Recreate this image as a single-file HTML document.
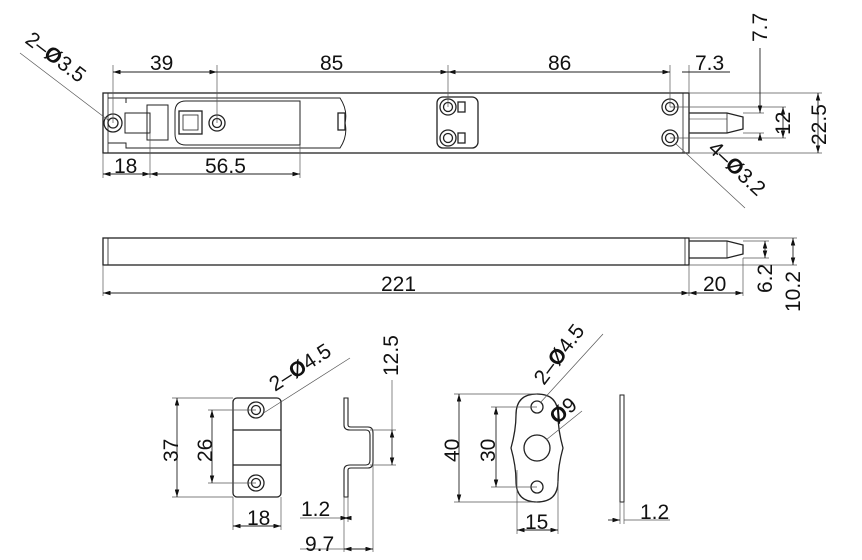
<!DOCTYPE html>
<html><head><meta charset="utf-8"><style>
html,body{margin:0;padding:0;background:#fff;}
svg{display:block;}
text{font-family:"Liberation Sans","DejaVu Sans",sans-serif;fill:#111;}
</style></head><body>
<svg width="862" height="560" viewBox="0 0 862 560" xmlns="http://www.w3.org/2000/svg">
<defs>
<marker id="a" viewBox="0 0 10 6" refX="10" refY="3" markerWidth="9" markerHeight="5" orient="auto-start-reverse"><path d="M0,0 L10,3 L0,6 z" fill="#111"/></marker>
</defs>
<g fill="none" stroke="#222" stroke-width="1.3">
<rect x="103" y="93" width="586" height="60"/>
<line x1="108" y1="93" x2="108" y2="153" stroke-width="0.8"/>
<line x1="683" y1="93" x2="683" y2="153" stroke-width="0.8"/>
<path d="M108,98 H126 V98 H340 Q348,110 345,123 Q348,136 340,148 H126 V143 H108" stroke-width="1"/>
<path d="M126,98 V103 M126,143 V148" stroke-width="1"/>
<path d="M186,101 H300 V145 H186 Q175,145 175,134 V112 Q175,101 186,101 Z" stroke-width="1"/>
<rect x="125" y="113" width="25" height="20" stroke-width="1"/>
<rect x="147" y="105" width="21" height="35" stroke-width="1"/>
<rect x="179" y="111" width="23" height="23"/>
<rect x="183" y="115" width="15" height="15" stroke-width="0.8"/>
<rect x="338" y="113" width="7" height="17"/>
<circle cx="113" cy="123" r="9"/><circle cx="113" cy="123" r="5"/>
<circle cx="217" cy="123" r="8"/><circle cx="217" cy="123" r="4.5"/>
<rect x="437" y="97" width="41" height="51" rx="6"/>
<circle cx="448" cy="107" r="8"/><circle cx="448" cy="107" r="4.5"/>
<circle cx="448" cy="138" r="8"/><circle cx="448" cy="138" r="4.5"/>
<rect x="458" y="102" width="7" height="10"/><rect x="458" y="133" width="7" height="10"/>
<circle cx="670" cy="107" r="8"/><circle cx="670" cy="107" r="4.5"/>
<circle cx="670" cy="138" r="8"/><circle cx="670" cy="138" r="4.5"/>
<path d="M689,113 H727 L743,117 V129 L727,133 H689"/>
<line x1="727" y1="113" x2="727" y2="133" stroke-width="0.8"/>
<line x1="689" y1="119" x2="727" y2="119" stroke-width="0.6"/>
<rect x="103" y="238" width="586" height="27"/>
<line x1="108" y1="238" x2="108" y2="265" stroke-width="0.8"/>
<line x1="685" y1="238" x2="685" y2="265" stroke-width="0.8"/>
<path d="M689,241 H727 L743,245 V254 L727,258 H689"/>
<line x1="727" y1="241" x2="727" y2="258" stroke-width="0.8"/>
<rect x="233" y="398" width="48" height="99" rx="4"/>
<line x1="233" y1="430" x2="281" y2="430"/><line x1="233" y1="465" x2="281" y2="465"/>
<circle cx="256" cy="410" r="8"/><circle cx="256" cy="410" r="4.5"/>
<circle cx="256" cy="483" r="8"/><circle cx="256" cy="483" r="4.5"/>
<path d="M344,398 V425 Q344,430 350,430 H366 Q370,430 370,435 V460 Q370,465 366,465 H350 Q344,465 344,470 V497 H348 V470 Q348,468 351,468 H368 Q373,468 373,462 V433 Q373,427 368,427 H351 Q348,427 348,425 V398 Z" stroke-width="1.1"/>
<path d="M537,394 Q558,394 558,415 Q558,430 563,448 Q558,466 558,481 Q558,502 537,502 Q516,502 516,481 Q516,466 511,448 Q516,430 516,415 Q516,394 537,394 Z"/>
<circle cx="537" cy="407" r="6"/><circle cx="537" cy="487" r="6"/><circle cx="537" cy="448" r="13"/>
<rect x="620" y="395" width="4" height="107" stroke-width="1"/>
</g>
<g fill="none" stroke="#555" stroke-width="0.7">
<line x1="113" y1="65" x2="113" y2="123"/><line x1="217" y1="65" x2="217" y2="123"/>
<line x1="448" y1="65" x2="448" y2="107"/><line x1="670" y1="65" x2="670" y2="107"/>
<line x1="689" y1="65" x2="689" y2="93"/>
<line x1="103" y1="153" x2="103" y2="178"/><line x1="150" y1="133" x2="150" y2="178"/><line x1="300" y1="145" x2="300" y2="178"/>
<line x1="689" y1="93" x2="822" y2="93"/><line x1="689" y1="153" x2="822" y2="153"/>
<line x1="670" y1="107" x2="786" y2="107"/><line x1="670" y1="138" x2="786" y2="138"/>
<line x1="743" y1="113" x2="764" y2="113"/><line x1="743" y1="133" x2="764" y2="133"/>
<line x1="20" y1="53" x2="108" y2="120"/>
<line x1="676" y1="144" x2="745" y2="208"/>
<line x1="103" y1="265" x2="103" y2="296"/><line x1="689" y1="265" x2="689" y2="296"/><line x1="743" y1="258" x2="743" y2="296"/>
<line x1="743" y1="241" x2="769" y2="241"/><line x1="743" y1="258" x2="769" y2="258"/>
<line x1="689" y1="238" x2="797" y2="238"/><line x1="689" y1="265" x2="797" y2="265"/>
<line x1="172" y1="398" x2="233" y2="398"/><line x1="172" y1="497" x2="233" y2="497"/>
<line x1="208" y1="410" x2="256" y2="410"/><line x1="208" y1="483" x2="256" y2="483"/>
<line x1="233" y1="497" x2="233" y2="530"/><line x1="281" y1="497" x2="281" y2="530"/>
<line x1="262" y1="414" x2="350" y2="358"/>
<line x1="370" y1="430" x2="396" y2="430"/><line x1="370" y1="465" x2="396" y2="465"/>
<line x1="392" y1="380" x2="392" y2="430"/>
<line x1="344" y1="497" x2="344" y2="552"/><line x1="348" y1="497" x2="348" y2="522"/><line x1="373" y1="465" x2="373" y2="552"/>
<line x1="300" y1="518" x2="344" y2="518"/><line x1="300" y1="549" x2="344" y2="549"/>
<line x1="454" y1="394" x2="537" y2="394"/><line x1="454" y1="502" x2="537" y2="502"/>
<line x1="491" y1="407" x2="537" y2="407"/><line x1="491" y1="487" x2="537" y2="487"/>
<line x1="517" y1="470" x2="517" y2="534"/><line x1="558" y1="481" x2="558" y2="534"/>
<line x1="540" y1="403" x2="603" y2="334"/>
<line x1="546" y1="440" x2="582" y2="411"/>
<line x1="620" y1="502" x2="620" y2="524"/><line x1="624" y1="502" x2="624" y2="524"/>
<line x1="624" y1="520" x2="670" y2="520"/>
</g>
<g stroke="#222" stroke-width="0.9" fill="none" marker-start="url(#a)" marker-end="url(#a)">
<line x1="113" y1="72" x2="217" y2="72"/>
<line x1="217" y1="72" x2="448" y2="72" marker-start="none"/>
<line x1="448" y1="72" x2="670" y2="72"/>
<line x1="682" y1="72" x2="730" y2="72" marker-start="none" marker-end="none"/>
<line x1="103" y1="174" x2="150" y2="174"/>
<line x1="150" y1="174" x2="300" y2="174"/>
<line x1="760" y1="48" x2="760" y2="113" marker-start="none"/>
<line x1="760" y1="133" x2="760" y2="140" marker-end="none"/>
<line x1="783" y1="107" x2="783" y2="138"/>
<line x1="818" y1="93" x2="818" y2="153"/>
<line x1="103" y1="293" x2="689" y2="293"/>
<line x1="689" y1="293" x2="743" y2="293"/>
<line x1="765" y1="241" x2="765" y2="258"/>
<line x1="793" y1="238" x2="793" y2="265"/>
<line x1="177" y1="398" x2="177" y2="497"/>
<line x1="212" y1="410" x2="212" y2="483"/>
<line x1="233" y1="526" x2="281" y2="526"/>
<line x1="392" y1="430" x2="392" y2="465"/>
<line x1="344" y1="518" x2="348" y2="518"/>
<line x1="344" y1="549" x2="373" y2="549"/>
<line x1="459" y1="394" x2="459" y2="502"/>
<line x1="496" y1="407" x2="496" y2="487"/>
<line x1="517" y1="530" x2="558" y2="530"/>
<line x1="608" y1="520" x2="620" y2="520" marker-start="none"/>
</g>
<g font-size="21">
<text x="150" y="70">39</text>
<text x="320" y="70">85</text>
<text x="548" y="70">86</text>
<text x="695" y="70">7.3</text>
<text x="114" y="173">18</text>
<text x="205" y="173">56.5</text>
<text x="381" y="291">221</text>
<text x="703" y="291">20</text>
<text x="247" y="525">18</text>
<text x="301" y="516">1.2</text>
<text x="305" y="551">9.7</text>
<text x="525" y="529">15</text>
<text x="640" y="519">1.2</text>
<text transform="translate(767,42) rotate(-90)">7.7</text>
<text transform="translate(790,135) rotate(-90)">12</text>
<text transform="translate(826,145) rotate(-90)">22.5</text>
<text transform="translate(772,293) rotate(-90)">6.2</text>
<text transform="translate(800,312) rotate(-90)">10.2</text>
<text transform="translate(178,462) rotate(-90)">37</text>
<text transform="translate(212,462) rotate(-90)">26</text>
<text transform="translate(398,376) rotate(-90)">12.5</text>
<text transform="translate(459,462) rotate(-90)">40</text>
<text transform="translate(495,462) rotate(-90)">30</text>
<text transform="translate(24,42) rotate(37)">2–<tspan font-weight="bold">Ø</tspan>3.5</text>
<text transform="translate(707,150) rotate(43)">4–<tspan font-weight="bold">Ø</tspan>3.2</text>
<text transform="translate(275,392) rotate(-33)">2–<tspan font-weight="bold">Ø</tspan>4.5</text>
<text transform="translate(544,386) rotate(-53)">2–<tspan font-weight="bold">Ø</tspan>4.5</text>
<text transform="translate(557,425) rotate(-40)"><tspan font-weight="bold">Ø</tspan>9</text>
</g>
</svg>
</body></html>
